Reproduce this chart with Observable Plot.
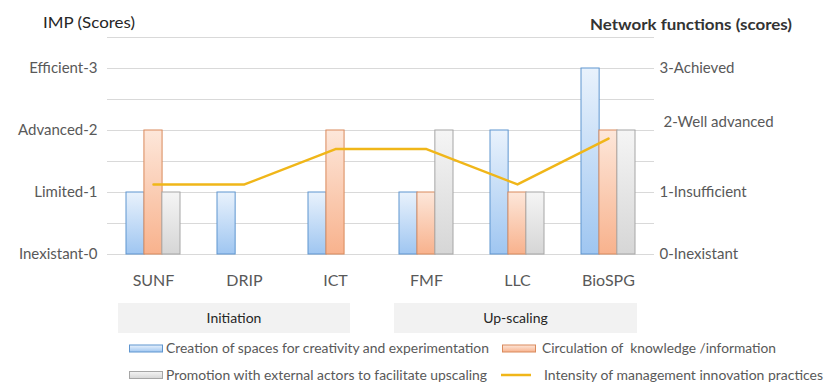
<!DOCTYPE html>
<html>
<head>
<meta charset="utf-8">
<script src="https://cdn.jsdelivr.net/npm/d3@7"></script>
<script src="https://cdn.jsdelivr.net/npm/@observablehq/plot@0.6"></script>
<style>
  html, body { margin: 0; padding: 0; background: #ffffff; }
  #chart { width: 824px; height: 383px; overflow: hidden; }
  #chart svg text { white-space: pre; }
</style>
</head>
<body>
<div id="chart"></div>
<script>
// ---- data ----
const categories = ["SUNF", "DRIP", "ICT", "FMF", "LLC", "BioSPG"];
const creation = [1, 1, 1, 1, 2, 3];      // Creation of spaces for creativity and experimentation
const circulation = [2, 0, 2, 1, 1, 2];   // Circulation of knowledge /information
const promotion = [1, 0, 0, 2, 1, 2];     // Promotion with external actors to facilitate upscaling
const intensity = [1.13, 1.13, 1.7, 1.7, 1.13, 1.87]; // Intensity of management innovation practices
const leftTickValues = [0, 1, 2, 3];
const leftTickLabels = ["Inexistant-0", "Limited-1", "Advanced-2", "Efficient-3"];
const rightTickLabels = ["0-Inexistant", "1-Insufficient", "2-Well advanced", "3-Achieved"];
const phases = ["Initiation", "Up-scaling"];
const seriesNames = [
  "Creation of spaces for creativity and experimentation",
  "Circulation of  knowledge /information",
  "Promotion with external actors to facilitate upscaling",
  "Intensity of management innovation practices"
];
const leftTitle = "IMP (Scores)";
const rightTitle = "Network functions (scores)";

// ---- layout / style ----
const W = 824, H = 383, mL = 107, mR = 170, mT = 37, mB = 129;
const pad = 0.41;
const step = (W - mL - mR) / categories.length;
const third = step * (1 - pad) / 3;
const font = "Lato, 'Open Sans', sans-serif";
const axisColor = "#595959";
const gridColor = "#d9d9d9";
const fills = ["url(#gBlue)", "url(#gOrange)", "url(#gGrey)"];
const strokes = ["#5e95cf", "#d98a5c", "#a6a6a6"];
const lineColor = "#f0b619";

const seriesArrays = [creation, circulation, promotion];
const barMarks = seriesArrays.map((arr, i) =>
  Plot.barY(
    categories.map((c, j) => ({category: c, value: arr[j]})).filter(d => d.value > 0),
    {x: "category", y: "value", fill: fills[i], stroke: strokes[i], strokeWidth: 1,
     insetLeft: i * third, insetRight: (2 - i) * third}
  )
);
const lineData = categories.map((c, j) => ({category: c, value: intensity[j]}));

const plot = Plot.plot({
  width: W, height: H,
  marginLeft: mL, marginRight: mR, marginTop: mT, marginBottom: mB,
  style: {fontFamily: font, background: "#ffffff", color: axisColor},
  x: {domain: categories, paddingInner: pad, paddingOuter: pad / 2, axis: null},
  y: {domain: [0, 3.5], axis: null},
  marks: [
    Plot.gridY(d3.range(0, 3.51, 0.5), {stroke: gridColor, strokeOpacity: 1, strokeWidth: 1}),
    ...barMarks,
    Plot.lineY(lineData, {x: "category", y: "value", stroke: lineColor, strokeWidth: 2.5, curve: "linear"}),
    Plot.axisY(leftTickValues, {anchor: "left", tickSize: 0, tickPadding: 10, fontSize: 15,
      tickFormat: d => leftTickLabels[d], label: null, color: axisColor}),
    Plot.axisY([0, 1, 3], {anchor: "right", tickSize: 0, tickPadding: 5, fontSize: 15,
      tickFormat: d => rightTickLabels[d], label: null, color: axisColor}),
    Plot.axisY([2], {anchor: "right", tickSize: 0, tickPadding: 9, dy: -8, fontSize: 15,
      tickFormat: d => rightTickLabels[d], label: null, color: axisColor}),
    Plot.axisX({tickSize: 0, tickPadding: 20, fontSize: 16, label: null, color: axisColor})
  ]
});

const svg = d3.select(plot);
// gradients
const defs = svg.insert("defs", ":first-child");
function grad(id, top, bottom) {
  const g = defs.append("linearGradient").attr("id", id)
    .attr("x1", 0).attr("y1", 0).attr("x2", 0).attr("y2", 1);
  g.append("stop").attr("offset", "0%").attr("stop-color", top);
  g.append("stop").attr("offset", "100%").attr("stop-color", bottom);
}
grad("gBlue", "#e9f2fc", "#9fc6f1");
grad("gOrange", "#fde7da", "#f8b28d");
grad("gGrey", "#f5f5f5", "#d6d6d6");

const extra = svg.append("g").attr("text-anchor", "start").attr("font-family", font);

// titles
extra.append("text").text(leftTitle)
  .attr("x", 43).attr("y", 22).attr("dy", "0.35em")
  .attr("font-size", 16).attr("fill", "#262626")
  .attr("textLength", 92).attr("lengthAdjust", "spacingAndGlyphs");
extra.append("text").text(rightTitle)
  .attr("x", 590).attr("y", 25).attr("dy", "0.35em")
  .attr("font-size", 15).attr("font-weight", "bold").attr("fill", "#333333")
  .attr("textLength", 202).attr("lengthAdjust", "spacingAndGlyphs");

// phase boxes
const phaseBoxes = [[118, 350], [394, 637]];
phases.forEach((p, i) => {
  const [x0, x1] = phaseBoxes[i];
  extra.append("rect").attr("x", x0).attr("y", 303).attr("width", x1 - x0).attr("height", 30)
    .attr("fill", "#f2f2f2");
  extra.append("text").text(p).attr("x", (x0 + x1) / 2).attr("y", 318.5).attr("dy", "0.35em")
    .attr("text-anchor", "middle").attr("font-size", 14).attr("fill", "#262626");
});

// legend
const legendItems = [
  {name: seriesNames[0], kind: "rect", fill: fills[0], stroke: strokes[0], sx: 129, tx: 166, y: 348.5, tw: 323},
  {name: seriesNames[1], kind: "rect", fill: fills[1], stroke: strokes[1], sx: 502, tx: 542, y: 348.5, tw: 234},
  {name: seriesNames[2], kind: "rect", fill: fills[2], stroke: strokes[2], sx: 129, tx: 166, y: 375, tw: 321},
  {name: seriesNames[3], kind: "line", stroke: lineColor, sx: 501, tx: 544, y: 375, tw: 279}
];
legendItems.forEach(it => {
  if (it.kind === "rect") {
    extra.append("rect").attr("x", it.sx + 0.5).attr("y", it.y - 3.5).attr("width", 33).attr("height", 7)
      .attr("fill", it.fill).attr("stroke", it.stroke).attr("stroke-width", 1);
  } else {
    extra.append("line").attr("x1", it.sx).attr("x2", it.sx + 30).attr("y1", it.y).attr("y2", it.y)
      .attr("stroke", it.stroke).attr("stroke-width", 2.5);
  }
  extra.append("text").text(it.name).attr("x", it.tx).attr("y", it.y).attr("dy", "0.35em")
    .attr("font-size", 13.5).attr("fill", axisColor)
    .attr("textLength", it.tw).attr("lengthAdjust", "spacingAndGlyphs");
});

document.getElementById("chart").appendChild(plot);
</script>
</body>
</html>
